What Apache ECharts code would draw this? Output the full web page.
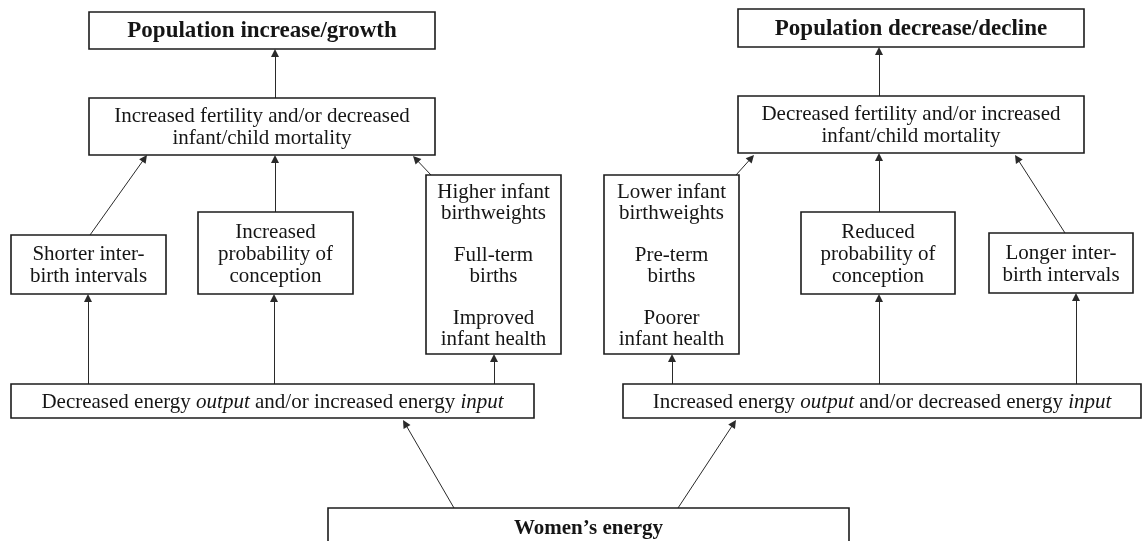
<!DOCTYPE html>
<html>
<head>
<meta charset="utf-8">
<title>Women's energy and population change</title>
<script src="https://cdn.jsdelivr.net/npm/echarts@6/dist/echarts.min.js"></script>
<style>
  html, body { margin: 0; padding: 0; background: #fff; }
  #chart { width: 1143px; height: 541px; }
</style>
</head>
<body>
<div id="chart"></div>
<script>
// box texts, in drawing order
const boxLabels = [
  'Population increase/growth',
  'Increased fertility and/or decreased\ninfant/child mortality',
  'Shorter inter-\nbirth intervals',
  'Increased\nprobability of\nconception',
  'Higher infant\nbirthweights\n\nFull-term\nbirths\n\nImproved\ninfant health',
  'Lower infant\nbirthweights\n\nPre-term\nbirths\n\nPoorer\ninfant health',
  'Population decrease/decline',
  'Decreased fertility and/or increased\ninfant/child mortality',
  'Reduced\nprobability of\nconception',
  'Longer inter-\nbirth intervals',
  'Decreased energy {i|output} and/or increased energy {i|input}',
  'Increased energy {i|output} and/or decreased energy {i|input}',
  'Women\u2019s energy'
]
const boldBoxes = [0, 6, 12]

// box corners in diagram units (x right, y down)
const boxLeft = [89, 89, 11, 198, 426, 604, 738, 738, 801, 989, 11, 623, 328]
const boxTop = [12, 98, 235, 212, 175, 175, 9, 96, 212, 233, 384, 384, 508]
const boxRight = [435, 435, 166, 353, 561, 739, 1084, 1084, 955, 1133, 534, 1141, 849]
const boxBottom = [49, 155, 294, 294, 354, 354, 47, 153, 294, 293, 418, 418, 547]

// arrows: tail -> head
const arrowTail = [
  [275, 98], [275, 212], [90, 235], [431, 175], [88, 384], [274, 384], [494, 384],
  [454, 508], [678, 508], [672, 384], [736, 175], [879, 96], [879, 212],
  [1065, 233], [879, 384], [1076, 384]
]
const arrowHead = [
  [275, 49], [275, 155], [147, 155], [413, 156], [88, 294], [274, 294], [494, 354],
  [403, 420], [736, 420], [672, 354], [754, 155], [879, 47], [879, 153],
  [1015, 155], [879, 294], [1076, 293]
]

const FONT = '"Liberation Serif", "DejaVu Serif", serif'
const ARROW_SIZE = 8

const chart = echarts.init(document.getElementById('chart'))

const boxData = boxLabels.map((_, i) => [boxLeft[i], boxTop[i], boxRight[i], boxBottom[i]])

// pull the line end back so the triangle tip lands on the box edge
const arrowData = arrowTail.map((t, i) => {
  const h = arrowHead[i]
  const dx = h[0] - t[0]
  const dy = h[1] - t[1]
  const len = Math.sqrt(dx * dx + dy * dy)
  const k = (ARROW_SIZE / 2) / len
  return { coords: [t, [h[0] - dx * k, h[1] - dy * k]] }
})

const renderBox = (params, api) => {
  const i = params.dataIndex
  const p0 = api.coord([api.value(0), api.value(1)])
  const p1 = api.coord([api.value(2), api.value(3)])
  const bold = boldBoxes.indexOf(i) >= 0
  const size = bold ? (i === 12 ? 21 : 23) : 21
  return {
    type: 'group',
    children: [
      {
        type: 'rect',
        shape: { x: p0[0], y: p0[1], width: p1[0] - p0[0], height: p1[1] - p0[1] },
        style: { fill: '#fff', stroke: '#1c1c1c', lineWidth: 1.6 }
      },
      {
        type: 'text',
        x: (p0[0] + p1[0]) / 2,
        y: (p0[1] + p1[1]) / 2 + 1,
        style: {
          text: boxLabels[i],
          fontFamily: FONT,
          fontSize: size,
          fontWeight: bold ? 'bold' : 'normal',
          lineHeight: (i === 4 || i === 5) ? 21 : 22,
          fill: '#151515',
          align: 'center',
          verticalAlign: 'middle',
          rich: {
            i: { fontFamily: FONT, fontSize: size, fontStyle: 'italic', fill: '#151515' }
          }
        }
      }
    ]
  }
}

const option = {
  backgroundColor: '#fff',
  animation: false,
  grid: { left: 0, right: 0, top: 0, bottom: 0 },
  xAxis: { type: 'value', min: 0, max: 1143, show: false },
  yAxis: { type: 'value', min: 0, max: 541, inverse: true, show: false },
  series: [
    {
      type: 'lines',
      coordinateSystem: 'cartesian2d',
      z: 1,
      symbol: ['none', 'triangle'],
      symbolSize: ARROW_SIZE,
      lineStyle: { color: '#2a2a2a', width: 1, opacity: 1 },
      itemStyle: { color: '#1a1a1a' },
      data: arrowData
    },
    {
      type: 'custom',
      z: 2,
      encode: { x: [0, 2], y: [1, 3] },
      renderItem: renderBox,
      data: boxData
    }
  ]
}

chart.setOption(option)
</script>
</body>
</html>
